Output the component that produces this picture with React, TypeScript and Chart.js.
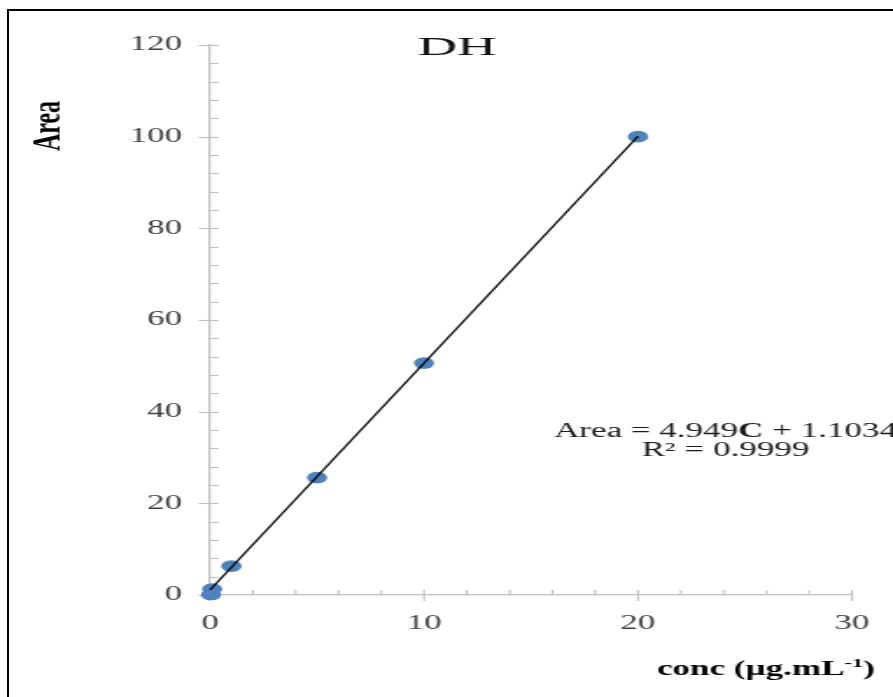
import React, { useEffect, useRef } from 'react';
import { Chart, registerables } from 'chart.js';

Chart.register(...registerables);

// ---- data ----
const concValues = [0.05, 0.1, 1, 5, 10, 20];
const areaValues = [0.1, 1.3, 6.3, 25.6, 50.6, 100];
const trendConc = [0, 20];
const trendArea = [1.1, 100.1];
const xMin = 0;
const xMax = 30;
const xMajorStep = 10;
const xMinorStep = 2;
const yMin = 0;
const yMax = 120;
const yMajorStep = 20;
const yMinorStep = 4;
const chartTitle = 'DH';
const yTitle = 'Area';
const xTitleMain = 'conc (µg.mL';
const xTitleSup = '-1';
const xTitleEnd = ')';
const eqLine1 = ['Area = 4.949', 'C', ' + 1.1034'];
const eqLine2 = 'R² = 0.9999';

// ---- layout ----
const CW = 510;
const CH = 697;
const STRETCH = 893 / CW;
const SERIF = '"Liberation Serif", "Times New Roman", serif';
const AXIS = '#bfbfbf';

const decorPlugin = {
  id: 'decor',
  beforeDatasetsDraw(chart: any) {
    const { ctx, chartArea, scales } = chart;
    const xs = scales.x;
    const ys = scales.y;
    ctx.save();
    ctx.strokeStyle = AXIS;
    ctx.lineWidth = 1.1;
    for (let v = yMin; v <= yMax + 1e-9; v += yMinorStep) {
      const py = Math.round(ys.getPixelForValue(v)) + 0.5;
      const major = Math.abs(v % yMajorStep) < 1e-9;
      ctx.beginPath();
      ctx.moveTo(chartArea.left - (major ? 6.5 : 0), py);
      ctx.lineTo(chartArea.left + 5, py);
      ctx.stroke();
    }
    for (let v = xMin; v <= xMax + 1e-9; v += xMinorStep) {
      const px = xs.getPixelForValue(v);
      const major = Math.abs(v % xMajorStep) < 1e-9;
      ctx.beginPath();
      ctx.moveTo(px, chartArea.bottom - 5);
      ctx.lineTo(px, chartArea.bottom + (major ? 6 : 0));
      ctx.stroke();
    }
    ctx.restore();
  },
  afterDraw(chart: any) {
    const { ctx } = chart;
    ctx.save();
    // title
    ctx.fillStyle = '#111';
    ctx.font = `25px ${SERIF}`;
    ctx.textAlign = 'center';
    ctx.textBaseline = 'alphabetic';
    ctx.save();
    ctx.translate(457 / STRETCH, 55);
    ctx.scale(1.25, 1);
    ctx.fillText(chartTitle, 0, 0);
    ctx.restore();

    // y title
    ctx.save();
    ctx.fillStyle = '#000';
    ctx.font = `bold 24px ${SERIF}`;
    ctx.translate(60 / STRETCH, 126);
    ctx.rotate(-Math.PI / 2);
    ctx.textAlign = 'center';
    ctx.fillText(yTitle, 0, 0);
    ctx.restore();

    // x title with superscript
    ctx.fillStyle = '#000';
    ctx.textAlign = 'left';
    let x = 657 / STRETCH;
    const base = 675;
    ctx.font = `bold 20px ${SERIF}`;
    ctx.fillText(xTitleMain, x, base);
    x += ctx.measureText(xTitleMain).width;
    ctx.font = `bold 13px ${SERIF}`;
    ctx.fillText(xTitleSup, x, base - 8);
    x += ctx.measureText(xTitleSup).width;
    ctx.font = `bold 20px ${SERIF}`;
    ctx.fillText(xTitleEnd, x, base);

    // equation
    ctx.fillStyle = '#1a1a1a';
    const cx = 725.5 / STRETCH;
    const fonts = [`20px ${SERIF}`, `bold 20px ${SERIF}`, `20px ${SERIF}`];
    let total = 0;
    const widths = eqLine1.map((s, i) => {
      ctx.font = fonts[i];
      const w = ctx.measureText(s).width;
      total += w;
      return w;
    });
    let ex = cx - total / 2;
    eqLine1.forEach((s, i) => {
      ctx.font = fonts[i];
      ctx.fillText(s, ex, 437);
      ex += widths[i];
    });
    ctx.font = `20px ${SERIF}`;
    ctx.textAlign = 'center';
    ctx.fillText(eqLine2, cx, 456);
    ctx.restore();
  },
};

export default function App() {
  const canvasRef = useRef<HTMLCanvasElement | null>(null);

  useEffect(() => {
    if (!canvasRef.current) return;
    const chart = new Chart(canvasRef.current, {
      type: 'scatter',
      data: {
        datasets: [
          {
            label: 'trend',
            data: trendConc.map((c, i) => ({ x: c, y: trendArea[i] })),
            showLine: true,
            borderColor: '#000',
            borderWidth: 1.3,
            pointRadius: 0,
            clip: false as any,
          },
          {
            label: chartTitle,
            data: concValues.map((c, i) => ({ x: c, y: areaValues[i] })),
            backgroundColor: '#4f81bd',
            borderColor: '#4f81bd',
            borderWidth: 0,
            pointRadius: 5.8,
            clip: false as any,
          },
        ],
      },
      options: {
        animation: false,
        responsive: false,
        devicePixelRatio: 1,
        layout: { padding: { top: 45, right: CW - 852 / STRETCH, left: 0, bottom: 0 } },
        plugins: { legend: { display: false }, tooltip: { enabled: false }, title: { display: false } },
        scales: {
          x: {
            type: 'linear',
            min: xMin,
            max: xMax,
            grid: { display: false, drawTicks: false },
            border: { display: true, color: AXIS, width: 1.25 },
            ticks: {
              stepSize: xMajorStep,
              padding: 17,
              color: '#404040',
              font: { family: SERIF, size: 20 },
            },
            afterFit: (s: any) => {
              s.height = 102;
              s.paddingLeft = 0;
              s.paddingRight = 0;
            },
          },
          y: {
            type: 'linear',
            min: yMin,
            max: yMax,
            grid: { display: false, drawTicks: false },
            border: { display: true, color: AXIS, width: 1.25 },
            ticks: {
              stepSize: yMajorStep,
              padding: 16,
              color: '#404040',
              font: { family: SERIF, size: 20 },
            },
            afterFit: (s: any) => {
              s.width = 210 / STRETCH;
              s.paddingTop = 0;
              s.paddingBottom = 0;
            },
          },
        },
      },
      plugins: [decorPlugin],
    });
    return () => chart.destroy();
  }, []);

  return (
    <div
      style={{
        position: 'fixed',
        left: 0,
        top: 0,
        width: 893,
        height: 697,
        overflow: 'hidden',
        background: '#fff',
      }}
    >
      <div
        style={{
          position: 'absolute',
          left: 7,
          top: 9,
          width: 1000,
          height: 800,
          borderLeft: '2px solid #000',
          borderTop: '2px solid #000',
        }}
      />
      <div
        style={{
          position: 'absolute',
          left: 0,
          top: 0,
          width: CW,
          height: CH,
          transform: `scaleX(${STRETCH})`,
          transformOrigin: '0 0',
        }}
      >
        <canvas ref={canvasRef} width={CW} height={CH} />
      </div>
    </div>
  );
}
